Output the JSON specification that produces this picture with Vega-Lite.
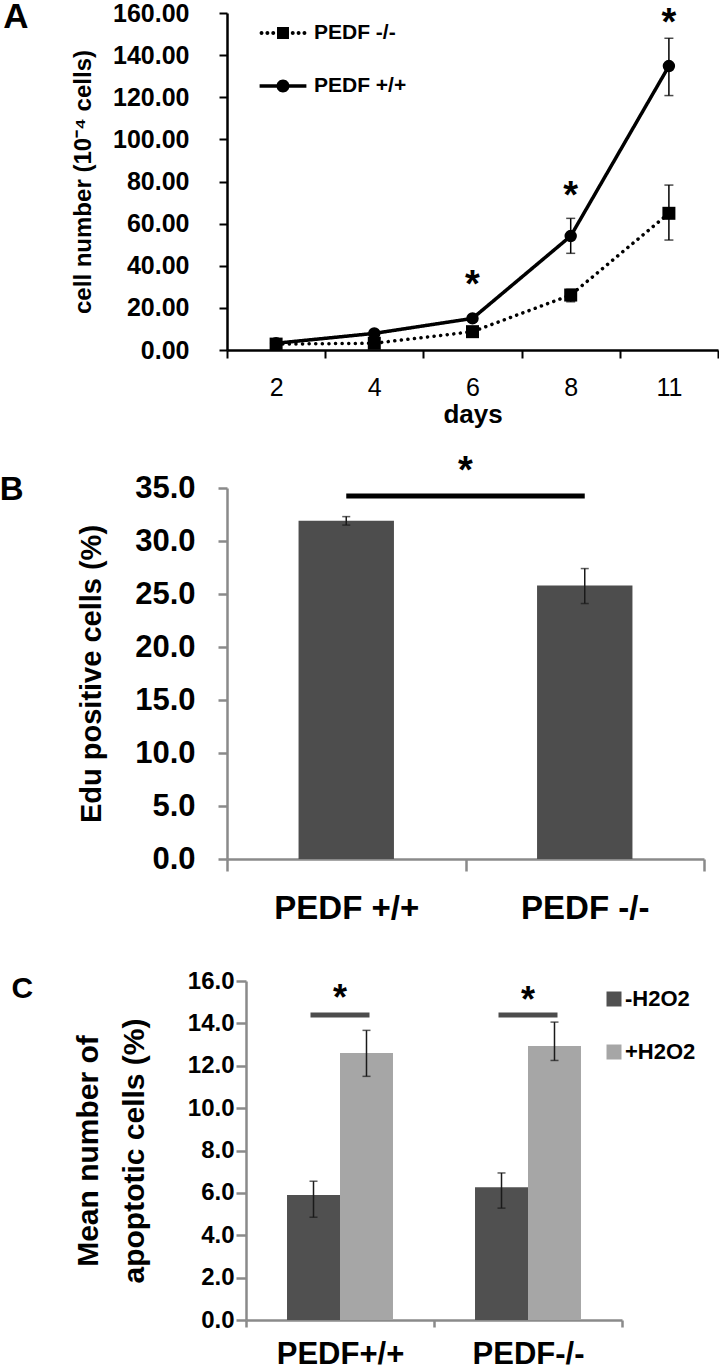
{
  "$schema": "https://vega.github.io/schema/vega-lite/v6.json",
  "background": "white",
  "padding": {"left": -1, "top": 0, "right": 0, "bottom": 0},
  "config": {
    "font": "Liberation Sans",
    "view": {"stroke": null},
    "axis": {"grid": false, "labelColor": "black", "titleColor": "black", "labelFont": "Liberation Sans", "titleFont": "Liberation Sans"},
    "legend": {"labelFont": "Liberation Sans", "labelColor": "black"},
    "title": {"font": "Liberation Sans", "color": "black"}
  },
  "spacing": 25,
  "resolve": {"legend": {"color": "independent"}, "scale": {"color": "independent"}},
  "vconcat": [
    {
      "title": {"text": "A", "orient": "left", "anchor": "end", "frame": "group", "angle": 0, "align": "left", "baseline": "top", "offset": 43, "dy": -13, "fontSize": 35, "fontWeight": "bold"},
      "width": 491,
      "height": 337,
      "data": {"values": [
        {"day": "2", "d": 2, "genotype": "PEDF +/+", "mean": 3.2, "lo": 2.8, "hi": 3.6},
        {"day": "4", "d": 4, "genotype": "PEDF +/+", "mean": 7.9, "lo": 7.1, "hi": 8.7},
        {"day": "6", "d": 6, "genotype": "PEDF +/+", "mean": 15.0, "lo": 14.0, "hi": 16.0},
        {"day": "8", "d": 8, "genotype": "PEDF +/+", "mean": 54.1, "lo": 45.9, "hi": 62.5},
        {"day": "11", "d": 11, "genotype": "PEDF +/+", "mean": 134.8, "lo": 120.8, "hi": 148.0},
        {"day": "2", "d": 2, "genotype": "PEDF -/-", "mean": 2.8, "lo": 2.4, "hi": 3.2},
        {"day": "4", "d": 4, "genotype": "PEDF -/-", "mean": 3.2, "lo": 2.6, "hi": 3.8},
        {"day": "6", "d": 6, "genotype": "PEDF -/-", "mean": 8.7, "lo": 7.9, "hi": 9.5},
        {"day": "8", "d": 8, "genotype": "PEDF -/-", "mean": 26.1, "lo": 22.9, "hi": 28.8},
        {"day": "11", "d": 11, "genotype": "PEDF -/-", "mean": 64.9, "lo": 52.2, "hi": 78.3}
      ]},
      "encoding": {
        "x": {"field": "day", "type": "ordinal", "sort": ["2", "4", "6", "8", "11"], "scale": {"type": "band", "paddingInner": 0, "paddingOuter": 0},
          "axis": {"tickBand": "extent", "labelAngle": 0, "labelFontSize": 25, "labelFontWeight": "normal", "tickSize": 8, "tickWidth": 2, "tickColor": "black", "domainColor": "black", "domainWidth": 2.5, "labelPadding": 17, "title": "days", "titleFontSize": 26, "titleFontWeight": "bold", "titlePadding": 1}}
      },
      "layer": [
        {
          "mark": {"type": "rule", "color": "black", "strokeWidth": 1.5},
          "encoding": {
            "y": {"field": "lo", "type": "quantitative", "scale": {"domain": [0, 160], "nice": false},
              "axis": {"values": [0, 20, 40, 60, 80, 100, 120, 140, 160], "format": ".2f", "labelFontSize": 25, "labelFontWeight": "bold", "tickSize": 8, "tickWidth": 2, "tickColor": "black", "domainColor": "black", "domainWidth": 2.5, "labelPadding": 30, "title": "cell number (10⁻⁴ cells)", "titleFontSize": 24, "titleFontWeight": "bold", "titlePadding": 17}},
            "y2": {"field": "hi"}
          }
        },
        {
          "mark": {"type": "tick", "color": "black", "size": 9, "thickness": 1.5},
          "encoding": {
            "y": {"field": "hi", "type": "quantitative", "scale": {"domain": [0, 160], "nice": false},
              "axis": {"values": [0, 20, 40, 60, 80, 100, 120, 140, 160], "format": ".2f", "labelFontSize": 25, "labelFontWeight": "bold", "tickSize": 8, "tickWidth": 2, "tickColor": "black", "domainColor": "black", "domainWidth": 2.5, "labelPadding": 30, "title": "cell number (10⁻⁴ cells)", "titleFontSize": 24, "titleFontWeight": "bold", "titlePadding": 17}}
          }
        },
        {
          "mark": {"type": "tick", "color": "black", "size": 9, "thickness": 1.5},
          "encoding": {
            "y": {"field": "lo", "type": "quantitative", "scale": {"domain": [0, 160], "nice": false},
              "axis": {"values": [0, 20, 40, 60, 80, 100, 120, 140, 160], "format": ".2f", "labelFontSize": 25, "labelFontWeight": "bold", "tickSize": 8, "tickWidth": 2, "tickColor": "black", "domainColor": "black", "domainWidth": 2.5, "labelPadding": 30, "title": "cell number (10⁻⁴ cells)", "titleFontSize": 24, "titleFontWeight": "bold", "titlePadding": 17}}
          }
        },
        {
          "mark": {"type": "line", "color": "black", "strokeWidth": 3.5, "strokeCap": "round"},
          "encoding": {
            "y": {"field": "mean", "type": "quantitative", "scale": {"domain": [0, 160], "nice": false},
              "axis": {"values": [0, 20, 40, 60, 80, 100, 120, 140, 160], "format": ".2f", "labelFontSize": 25, "labelFontWeight": "bold", "tickSize": 8, "tickWidth": 2, "tickColor": "black", "domainColor": "black", "domainWidth": 2.5, "labelPadding": 30, "title": "cell number (10⁻⁴ cells)", "titleFontSize": 24, "titleFontWeight": "bold", "titlePadding": 17}},
            "order": {"field": "d", "type": "quantitative"},
            "strokeDash": {"field": "genotype", "type": "nominal",
              "scale": {"domain": ["PEDF -/-", "PEDF +/+"], "range": [[0.1, 6.5], [1, 0]]},
              "legend": null}
          }
        },
        {
          "transform": [{"filter": "datum.genotype === 'PEDF +/+'"}],
          "mark": {"type": "point", "shape": "circle", "filled": true, "opacity": 1, "size": 154},
          "encoding": {
            "y": {"field": "mean", "type": "quantitative", "scale": {"domain": [0, 160], "nice": false},
              "axis": {"values": [0, 20, 40, 60, 80, 100, 120, 140, 160], "format": ".2f", "labelFontSize": 25, "labelFontWeight": "bold", "tickSize": 8, "tickWidth": 2, "tickColor": "black", "domainColor": "black", "domainWidth": 2.5, "labelPadding": 30, "title": "cell number (10⁻⁴ cells)", "titleFontSize": 24, "titleFontWeight": "bold", "titlePadding": 17}},
            "color": {"field": "genotype", "type": "nominal", "scale": {"domain": ["PEDF -/-", "PEDF +/+"], "range": ["black", "black"]},
              "legend": {"orient": "none", "legendX": 45.5, "legendY": 9.5, "title": null, "padding": 0, "labelFontSize": 21, "labelFontWeight": "bold", "labelOffset": 20.5, "rowPadding": 31, "symbolSize": 169, "symbolStrokeWidth": 0, "symbolOpacity": 1,
                "encode": {"symbols": {"update": {
                  "shape": {"signal": "datum.value === 'PEDF -/-' ? 'M-3,0A0.3,0.3,0,1,1,-3.6,0A0.3,0.3,0,1,1,-3,0ZM-2.1,0A0.3,0.3,0,1,1,-2.7,0A0.3,0.3,0,1,1,-2.1,0ZM-1.2,0A0.3,0.3,0,1,1,-1.8,0A0.3,0.3,0,1,1,-1.2,0ZM1.8,0A0.3,0.3,0,1,1,1.2,0A0.3,0.3,0,1,1,1.8,0ZM2.7,0A0.3,0.3,0,1,1,2.1,0A0.3,0.3,0,1,1,2.7,0ZM3.6,0A0.3,0.3,0,1,1,3,0A0.3,0.3,0,1,1,3.6,0ZM-0.92,-0.92H0.92V0.92H-0.92Z' : 'M-3.6,-0.27H3.6V0.27H-3.6ZM1,0A1,1,0,1,1,-1,0A1,1,0,1,1,1,0Z'"},
                  "strokeWidth": {"value": 0},
                  "opacity": {"value": 1}
                }}}}
            }
          }
        },
        {
          "transform": [{"filter": "datum.genotype === 'PEDF -/-'"}],
          "mark": {"type": "point", "shape": "square", "filled": true, "opacity": 1, "size": 169},
          "encoding": {
            "y": {"field": "mean", "type": "quantitative", "scale": {"domain": [0, 160], "nice": false},
              "axis": {"values": [0, 20, 40, 60, 80, 100, 120, 140, 160], "format": ".2f", "labelFontSize": 25, "labelFontWeight": "bold", "tickSize": 8, "tickWidth": 2, "tickColor": "black", "domainColor": "black", "domainWidth": 2.5, "labelPadding": 30, "title": "cell number (10⁻⁴ cells)", "titleFontSize": 24, "titleFontWeight": "bold", "titlePadding": 17}},
            "color": {"field": "genotype", "type": "nominal", "scale": {"domain": ["PEDF -/-", "PEDF +/+"], "range": ["black", "black"]}}
          }
        },
        {
          "data": {"values": [
            {"day": "6", "star": 34.8, "label": "*"},
            {"day": "8", "star": 76.8, "label": "*"},
            {"day": "11", "star": 159.1, "label": "*"}
          ]},
          "mark": {"type": "text", "fontSize": 38, "fontWeight": "bold", "baseline": "top", "dy": -10, "color": "black"},
          "encoding": {
            "y": {"field": "star", "type": "quantitative", "scale": {"domain": [0, 160], "nice": false},
              "axis": {"values": [0, 20, 40, 60, 80, 100, 120, 140, 160], "format": ".2f", "labelFontSize": 25, "labelFontWeight": "bold", "tickSize": 8, "tickWidth": 2, "tickColor": "black", "domainColor": "black", "domainWidth": 2.5, "labelPadding": 30, "title": "cell number (10⁻⁴ cells)", "titleFontSize": 24, "titleFontWeight": "bold", "titlePadding": 17}},
            "text": {"field": "label"}
          }
        }
      ]
    },
    {
      "spacing": 44,
      "resolve": {"legend": {"color": "independent"}, "scale": {"color": "independent"}},
      "vconcat": [
        {
          "title": {"text": "B", "orient": "left", "anchor": "end", "frame": "group", "angle": 0, "align": "left", "baseline": "top", "offset": 54, "dy": -14, "fontSize": 33, "fontWeight": "bold"},
          "width": 477,
          "height": 371,
          "data": {"values": [
            {"genotype": "PEDF +/+", "mean": 31.9, "lo": 31.5, "hi": 32.3},
            {"genotype": "PEDF -/-", "mean": 25.8, "lo": 24.1, "hi": 27.4}
          ]},
          "encoding": {
            "x": {"field": "genotype", "type": "nominal", "sort": ["PEDF +/+", "PEDF -/-"], "scale": {"type": "band", "paddingInner": 0, "paddingOuter": 0},
              "axis": {"tickBand": "extent", "labelAngle": 0, "labelFontSize": 33, "labelFontWeight": "bold", "tickSize": 12, "tickWidth": 2.5, "tickColor": "#8a8a8a", "domainColor": "#8a8a8a", "domainWidth": 2.5, "labelPadding": 21, "title": null}}
          },
          "layer": [
            {
              "mark": {"type": "bar", "color": "#4d4d4d", "width": {"band": 0.4}},
              "encoding": {
                "y": {"field": "mean", "type": "quantitative", "scale": {"domain": [0, 35], "nice": false},
                  "axis": {"values": [0, 5, 10, 15, 20, 25, 30, 35], "format": ".1f", "labelFontSize": 31, "labelFontWeight": "bold", "tickSize": 9, "tickWidth": 2.5, "tickColor": "#8a8a8a", "domainColor": "#8a8a8a", "domainWidth": 2.5, "labelPadding": 23, "title": "Edu positive cells (%)", "titleFontSize": 29, "titleFontWeight": "bold", "titlePadding": 28}}
              }
            },
            {
              "mark": {"type": "rule", "color": "#1a1a1a", "strokeWidth": 1.5},
              "encoding": {
                "y": {"field": "lo", "type": "quantitative", "scale": {"domain": [0, 35], "nice": false},
                  "axis": {"values": [0, 5, 10, 15, 20, 25, 30, 35], "format": ".1f", "labelFontSize": 31, "labelFontWeight": "bold", "tickSize": 9, "tickWidth": 2.5, "tickColor": "#8a8a8a", "domainColor": "#8a8a8a", "domainWidth": 2.5, "labelPadding": 23, "title": "Edu positive cells (%)", "titleFontSize": 29, "titleFontWeight": "bold", "titlePadding": 28}},
                "y2": {"field": "hi"}
              }
            },
            {
              "mark": {"type": "tick", "color": "#1a1a1a", "size": 8, "thickness": 1.5},
              "encoding": {
                "y": {"field": "lo", "type": "quantitative", "scale": {"domain": [0, 35], "nice": false},
                  "axis": {"values": [0, 5, 10, 15, 20, 25, 30, 35], "format": ".1f", "labelFontSize": 31, "labelFontWeight": "bold", "tickSize": 9, "tickWidth": 2.5, "tickColor": "#8a8a8a", "domainColor": "#8a8a8a", "domainWidth": 2.5, "labelPadding": 23, "title": "Edu positive cells (%)", "titleFontSize": 29, "titleFontWeight": "bold", "titlePadding": 28}}
              }
            },
            {
              "mark": {"type": "tick", "color": "#1a1a1a", "size": 8, "thickness": 1.5},
              "encoding": {
                "y": {"field": "hi", "type": "quantitative", "scale": {"domain": [0, 35], "nice": false},
                  "axis": {"values": [0, 5, 10, 15, 20, 25, 30, 35], "format": ".1f", "labelFontSize": 31, "labelFontWeight": "bold", "tickSize": 9, "tickWidth": 2.5, "tickColor": "#8a8a8a", "domainColor": "#8a8a8a", "domainWidth": 2.5, "labelPadding": 23, "title": "Edu positive cells (%)", "titleFontSize": 29, "titleFontWeight": "bold", "titlePadding": 28}}
              }
            },
            {
              "data": {"values": [{"from": "PEDF +/+", "to": "PEDF -/-", "level": 34.25}]},
              "mark": {"type": "rule", "color": "black", "strokeWidth": 5},
              "encoding": {
                "x": {"field": "from", "type": "nominal", "sort": ["PEDF +/+", "PEDF -/-"], "bandPosition": 0.5, "scale": {"type": "band", "paddingInner": 0, "paddingOuter": 0},
                  "axis": {"tickBand": "extent", "labelAngle": 0, "labelFontSize": 33, "labelFontWeight": "bold", "tickSize": 12, "tickWidth": 2.5, "tickColor": "#8a8a8a", "domainColor": "#8a8a8a", "domainWidth": 2.5, "labelPadding": 21, "title": null}},
                "x2": {"field": "to", "bandPosition": 0.5},
                "y": {"field": "level", "type": "quantitative", "scale": {"domain": [0, 35], "nice": false},
                  "axis": {"values": [0, 5, 10, 15, 20, 25, 30, 35], "format": ".1f", "labelFontSize": 31, "labelFontWeight": "bold", "tickSize": 9, "tickWidth": 2.5, "tickColor": "#8a8a8a", "domainColor": "#8a8a8a", "domainWidth": 2.5, "labelPadding": 23, "title": "Edu positive cells (%)", "titleFontSize": 29, "titleFontWeight": "bold", "titlePadding": 28}}
              }
            },
            {
              "data": {"values": [{"genotype": "PEDF +/+", "star": 37.4, "label": "*"}]},
              "mark": {"type": "text", "fontSize": 38, "fontWeight": "bold", "baseline": "top", "dy": -10, "color": "black"},
              "encoding": {
                "x": {"field": "genotype", "type": "nominal", "sort": ["PEDF +/+", "PEDF -/-"], "bandPosition": 1, "scale": {"type": "band", "paddingInner": 0, "paddingOuter": 0},
                  "axis": {"tickBand": "extent", "labelAngle": 0, "labelFontSize": 33, "labelFontWeight": "bold", "tickSize": 12, "tickWidth": 2.5, "tickColor": "#8a8a8a", "domainColor": "#8a8a8a", "domainWidth": 2.5, "labelPadding": 21, "title": null}},
                "y": {"field": "star", "type": "quantitative", "scale": {"domain": [0, 35], "nice": false},
                  "axis": {"values": [0, 5, 10, 15, 20, 25, 30, 35], "format": ".1f", "labelFontSize": 31, "labelFontWeight": "bold", "tickSize": 9, "tickWidth": 2.5, "tickColor": "#8a8a8a", "domainColor": "#8a8a8a", "domainWidth": 2.5, "labelPadding": 23, "title": "Edu positive cells (%)", "titleFontSize": 29, "titleFontWeight": "bold", "titlePadding": 28}},
                "text": {"field": "label"}
              }
            }
          ]
        },
        {
          "title": {"text": "C", "orient": "left", "anchor": "end", "frame": "group", "angle": 0, "align": "left", "baseline": "top", "offset": 40, "dy": -7, "fontSize": 30, "fontWeight": "bold"},
          "width": 395,
          "height": 339,
          "data": {"values": [
            {"group": "PEDF+/+", "cond": "-H2O2", "mean": 5.9, "lo": 4.85, "hi": 6.55},
            {"group": "PEDF+/+", "cond": "+H2O2", "mean": 12.6, "lo": 11.5, "hi": 13.67},
            {"group": "PEDF-/-", "cond": "-H2O2", "mean": 6.27, "lo": 5.28, "hi": 6.94},
            {"group": "PEDF-/-", "cond": "+H2O2", "mean": 12.93, "lo": 12.25, "hi": 14.06}
          ]},
          "encoding": {
            "x": {"field": "group", "type": "nominal", "sort": ["PEDF+/+", "PEDF-/-"], "scale": {"type": "band", "range": [19, 395], "paddingInner": 0, "paddingOuter": 0},
              "axis": {"tickBand": "extent", "labelAngle": 0, "labelFontSize": 31, "labelFontWeight": "bold", "tickSize": 7, "tickWidth": 2.5, "tickColor": "#8a8a8a", "domainColor": "#8a8a8a", "domainWidth": 2.5, "labelPadding": 12, "title": null}}
          },
          "layer": [
            {
              "mark": {"type": "bar"},
              "encoding": {
                "xOffset": {"field": "cond", "type": "nominal", "sort": ["-H2O2", "+H2O2"], "scale": {"paddingInner": 0, "paddingOuter": 0.774}},
                "y": {"field": "mean", "type": "quantitative", "scale": {"domain": [0, 16], "nice": false},
                  "axis": {"offset": -19, "values": [0, 2, 4, 6, 8, 10, 12, 14, 16], "format": ".1f", "labelFontSize": 24, "labelFontWeight": "bold", "tickSize": 10, "tickWidth": 2.5, "tickColor": "#8a8a8a", "domainColor": "#8a8a8a", "domainWidth": 2.5, "labelPadding": 2, "title": ["Mean number of", "apoptotic cells (%)"], "titleFontSize": 30, "titleFontWeight": "bold", "titleLineHeight": 46, "titlePadding": 38}},
                "color": {"field": "cond", "type": "nominal", "sort": ["-H2O2", "+H2O2"], "scale": {"domain": ["-H2O2", "+H2O2"], "range": ["#505050", "#a6a6a6"]},
                  "legend": {"orient": "none", "legendX": 376, "legendY": 7, "title": null, "padding": 0, "symbolType": "square", "symbolSize": 225, "symbolStrokeWidth": 0, "labelFontSize": 22, "labelFontWeight": "bold", "labelOffset": 0, "rowPadding": 31}}
              }
            },
            {
              "mark": {"type": "rule", "color": "#1a1a1a", "strokeWidth": 1.5},
              "encoding": {
                "xOffset": {"field": "cond", "type": "nominal", "sort": ["-H2O2", "+H2O2"], "scale": {"paddingInner": 0, "paddingOuter": 0.774}},
                "y": {"field": "lo", "type": "quantitative", "scale": {"domain": [0, 16], "nice": false},
                  "axis": {"offset": -19, "values": [0, 2, 4, 6, 8, 10, 12, 14, 16], "format": ".1f", "labelFontSize": 24, "labelFontWeight": "bold", "tickSize": 10, "tickWidth": 2.5, "tickColor": "#8a8a8a", "domainColor": "#8a8a8a", "domainWidth": 2.5, "labelPadding": 2, "title": ["Mean number of", "apoptotic cells (%)"], "titleFontSize": 30, "titleFontWeight": "bold", "titleLineHeight": 46, "titlePadding": 38}},
                "y2": {"field": "hi"}
              }
            },
            {
              "mark": {"type": "tick", "color": "#1a1a1a", "size": 8, "thickness": 1.5},
              "encoding": {
                "xOffset": {"field": "cond", "type": "nominal", "sort": ["-H2O2", "+H2O2"], "scale": {"paddingInner": 0, "paddingOuter": 0.774}},
                "y": {"field": "lo", "type": "quantitative", "scale": {"domain": [0, 16], "nice": false},
                  "axis": {"offset": -19, "values": [0, 2, 4, 6, 8, 10, 12, 14, 16], "format": ".1f", "labelFontSize": 24, "labelFontWeight": "bold", "tickSize": 10, "tickWidth": 2.5, "tickColor": "#8a8a8a", "domainColor": "#8a8a8a", "domainWidth": 2.5, "labelPadding": 2, "title": ["Mean number of", "apoptotic cells (%)"], "titleFontSize": 30, "titleFontWeight": "bold", "titleLineHeight": 46, "titlePadding": 38}}
              }
            },
            {
              "mark": {"type": "tick", "color": "#1a1a1a", "size": 8, "thickness": 1.5},
              "encoding": {
                "xOffset": {"field": "cond", "type": "nominal", "sort": ["-H2O2", "+H2O2"], "scale": {"paddingInner": 0, "paddingOuter": 0.774}},
                "y": {"field": "hi", "type": "quantitative", "scale": {"domain": [0, 16], "nice": false},
                  "axis": {"offset": -19, "values": [0, 2, 4, 6, 8, 10, 12, 14, 16], "format": ".1f", "labelFontSize": 24, "labelFontWeight": "bold", "tickSize": 10, "tickWidth": 2.5, "tickColor": "#8a8a8a", "domainColor": "#8a8a8a", "domainWidth": 2.5, "labelPadding": 2, "title": ["Mean number of", "apoptotic cells (%)"], "titleFontSize": 30, "titleFontWeight": "bold", "titleLineHeight": 46, "titlePadding": 38}}
              }
            },
            {
              "data": {"values": [
                {"group": "PEDF+/+", "level": 14.4, "star": 15.5, "label": "*"},
                {"group": "PEDF-/-", "level": 14.4, "star": 15.4, "label": "*"}
              ]},
              "layer": [
                {
                  "mark": {"type": "tick", "color": "black", "size": 59, "thickness": 5},
                  "encoding": {
                    "y": {"field": "level", "type": "quantitative", "scale": {"domain": [0, 16], "nice": false},
                      "axis": {"offset": -19, "values": [0, 2, 4, 6, 8, 10, 12, 14, 16], "format": ".1f", "labelFontSize": 24, "labelFontWeight": "bold", "tickSize": 10, "tickWidth": 2.5, "tickColor": "#8a8a8a", "domainColor": "#8a8a8a", "domainWidth": 2.5, "labelPadding": 2, "title": ["Mean number of", "apoptotic cells (%)"], "titleFontSize": 30, "titleFontWeight": "bold", "titleLineHeight": 46, "titlePadding": 38}}
                  }
                },
                {
                  "mark": {"type": "text", "fontSize": 36, "fontWeight": "bold", "baseline": "top", "dy": -10, "color": "black"},
                  "encoding": {
                    "y": {"field": "star", "type": "quantitative", "scale": {"domain": [0, 16], "nice": false},
                      "axis": {"offset": -19, "values": [0, 2, 4, 6, 8, 10, 12, 14, 16], "format": ".1f", "labelFontSize": 24, "labelFontWeight": "bold", "tickSize": 10, "tickWidth": 2.5, "tickColor": "#8a8a8a", "domainColor": "#8a8a8a", "domainWidth": 2.5, "labelPadding": 2, "title": ["Mean number of", "apoptotic cells (%)"], "titleFontSize": 30, "titleFontWeight": "bold", "titleLineHeight": 46, "titlePadding": 38}},
                    "text": {"field": "label"}
                  }
                }
              ]
            }
          ]
        }
      ]
    }
  ]
}
